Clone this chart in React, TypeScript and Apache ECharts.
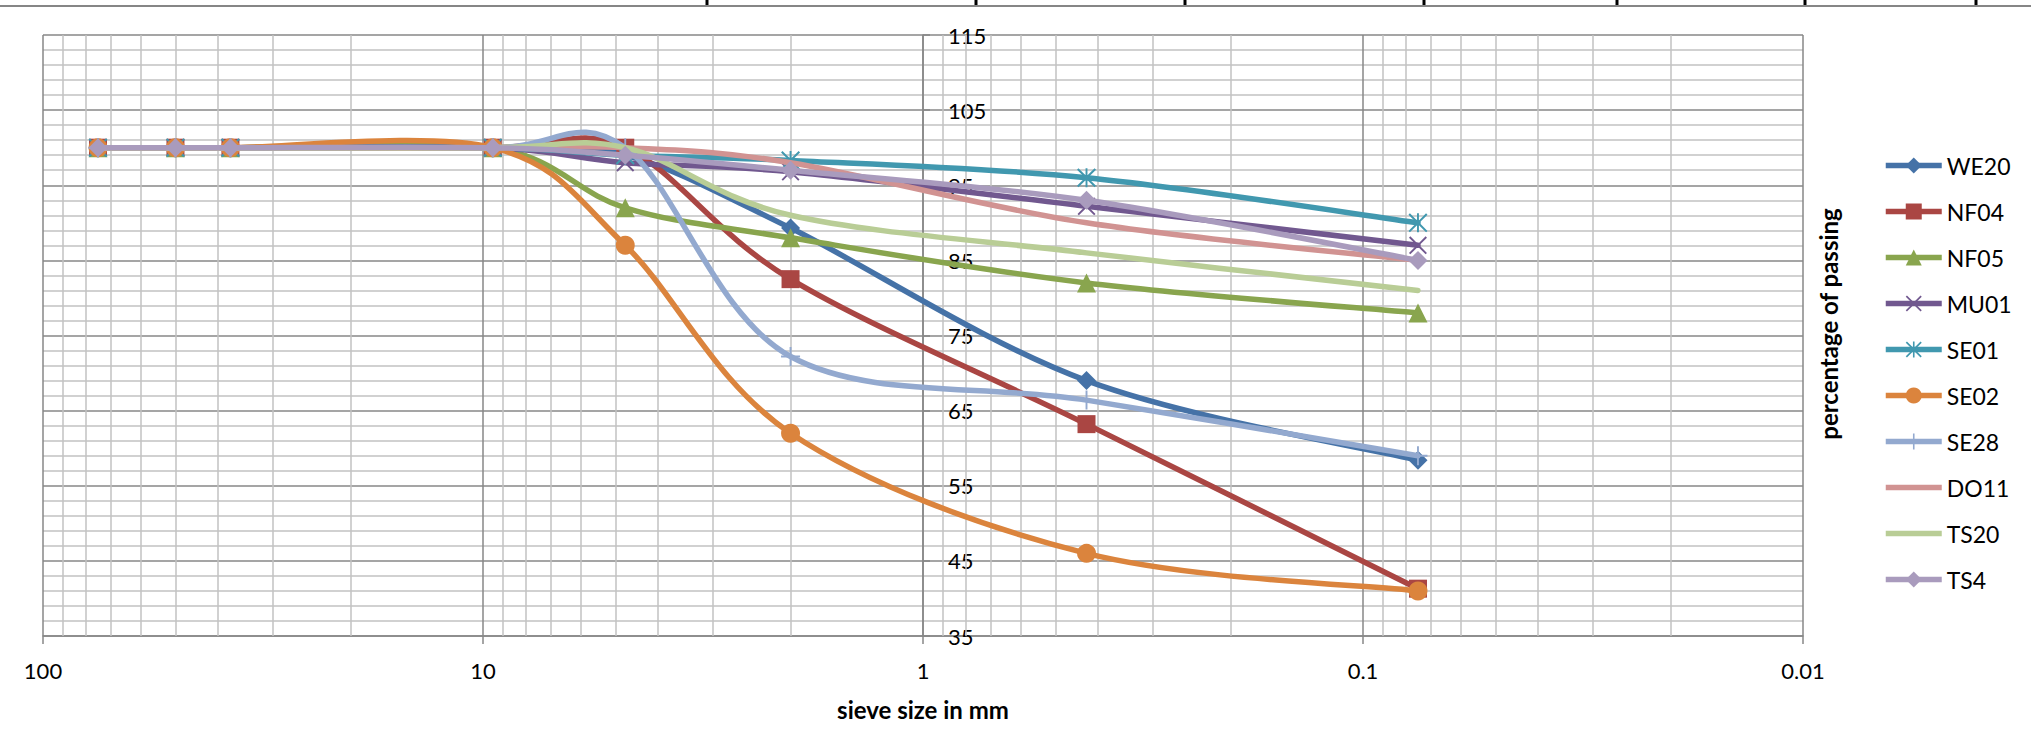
import React, { useEffect, useRef } from "react";
import * as echarts from "echarts";

// ---- data ----
const sieveSizes = [75, 50, 37.5, 9.5, 4.75, 2, 0.425, 0.075];
const seriesNames = ["WE20", "NF04", "NF05", "MU01", "SE01", "SE02", "SE28", "DO11", "TS20", "TS4"];
const WE20 = [100, 100, 100, 100, 99, 89.3, 69, 58.4];
const NF04 = [100, 100, 100, 100, 100, 82.5, 63.2, 41.3];
const NF05 = [100, 100, 100, 100, 92, 88, 82, 78];
const MU01 = [100, 100, 100, 100, 98, 96.8, 92.2, 87];
const SE01 = [100, 100, 100, 100, 99, 98.3, 96, 90];
const SE02 = [100, 100, 100, 100, 87, 62, 46, 41];
const SE28 = [100, 100, 100, 100, 100, 72.2, 66.4, 59];
const DO11 = [100, 100, 100, 100, 100, 98, 90, 85];
const TS20 = [100, 100, 100, 100, 100, 91, 86, 81];
const TS4 = [100, 100, 100, 100, 99, 97, 93, 85];
const seriesValues = [WE20, NF04, NF05, MU01, SE01, SE02, SE28, DO11, TS20, TS4];

const xTickValues = [100, 10, 1, 0.1, 0.01];
const xTickLabels = ["100", "10", "1", "0.1", "0.01"];
const minorXValues = [
  90, 80, 70, 60, 50, 40, 30, 20,
  9, 8, 7, 6, 5, 4, 3, 2,
  0.9, 0.8, 0.7, 0.6, 0.5, 0.4, 0.3, 0.2,
  0.09, 0.08, 0.07, 0.06, 0.05, 0.04, 0.03, 0.02,
];

// ---- styles ----
const FONT = "Lato, 'Liberation Sans', sans-serif";
const colors = ["#4572A7", "#AA4643", "#89A54E", "#71588F", "#4198AF", "#DB843D", "#93A9CF", "#D19392", "#B9CD96", "#A99BBD"];
const X_PATH = "path://M0,1.5 L1.5,0 L10,8.5 L18.5,0 L20,1.5 L11.5,10 L20,18.5 L18.5,20 L10,11.5 L1.5,20 L0,18.5 L8.5,10 Z";
const STAR_PATH = X_PATH + " M9,0 L11,0 L11,20 L9,20 Z";
const PLUS_PATH = "path://M9,0 L11,0 L11,9 L20,9 L20,11 L11,11 L11,20 L9,20 L9,11 L0,11 L0,9 L9,9 Z";
const symbols = ["diamond", "rect", "triangle", X_PATH, STAR_PATH, "circle", PLUS_PATH, "none", "none", "diamond"];
const symbolSizes = [19, 18, 19, 18, 19, 19, 19, 0, 0, 19];
const MAJOR = "#878787";
const MINOR = "#c2c2c2";
const LINE_W = 5.5;

export default function App() {
  const ref = useRef<HTMLDivElement>(null);
  useEffect(() => {
    if (!ref.current) return;
    const chart = echarts.init(ref.current, null, { renderer: "svg" });

    // Excel-like (Catmull-Rom) smoothed curves, positioned through the axes via api.coord
    const curveSeries = seriesNames.map((name, i) => ({
      name: name + " curve",
      type: "custom",
      data: sieveSizes.map((x, j) => [x, seriesValues[i][j]]),
      encode: { x: 0, y: 1 },
      z: 10 + 2 * i,
      silent: true,
      renderItem: (params: any, api: any) => {
        if (params.dataIndex !== 0) return null;
        const pts = sieveSizes.map((x, j) => api.coord([x, seriesValues[i][j]]));
        let d = `M${pts[0][0]},${pts[0][1]}`;
        for (let k = 0; k < pts.length - 1; k++) {
          const p0 = pts[Math.max(k - 1, 0)];
          const p1 = pts[k];
          const p2 = pts[k + 1];
          const p3 = pts[Math.min(k + 2, pts.length - 1)];
          const c1x = p1[0] + (p2[0] - p0[0]) / 6;
          const c1y = p1[1] + (p2[1] - p0[1]) / 6;
          const c2x = p2[0] - (p3[0] - p1[0]) / 6;
          const c2y = p2[1] - (p3[1] - p1[1]) / 6;
          d += ` C${c1x},${c1y} ${c2x},${c2y} ${p2[0]},${p2[1]}`;
        }
        return {
          type: "path",
          shape: { pathData: d },
          style: { fill: "none", stroke: colors[i], lineWidth: LINE_W, lineCap: "round", lineJoin: "round" },
        };
      },
    }));

    // markers + legend entries
    const markerSeries = seriesNames.map((name, i) => ({
      name,
      type: "line",
      data: sieveSizes.map((x, j) => [x, seriesValues[i][j]]),
      symbol: symbols[i],
      symbolSize: symbolSizes[i],
      showSymbol: symbols[i] !== "none",
      lineStyle: { color: colors[i], width: LINE_W, opacity: 0 },
      itemStyle: { color: colors[i] },
      z: 11 + 2 * i,
    }));

    const helper = {
      name: "__minorGrid",
      type: "line",
      data: [],
      z: 1,
      silent: true,
      markLine: {
        silent: true,
        symbol: ["none", "none"],
        label: { show: false },
        lineStyle: { color: MINOR, width: 1.5, type: "solid" },
        emphasis: { disabled: true },
        data: minorXValues.map((v) => ({ xAxis: v })),
      },
    };

    const topTicks = [707, 976, 1185, 1424, 1617, 1805, 1976];
    chart.setOption({
      animation: false,
      backgroundColor: "#ffffff",
      textStyle: { fontFamily: FONT },
      grid: { left: 43, right: 228, top: 35, bottom: 119, containLabel: false, outerBoundsMode: "none" },
      xAxis: {
        type: "log",
        logBase: 10,
        min: 0.01,
        max: 100,
        inverse: true,
        splitNumber: 4,
        name: "sieve size in mm",
        nameLocation: "middle",
        nameGap: 61,
        nameTextStyle: { fontWeight: "bold", fontSize: 24, fontFamily: FONT, color: "#000" },
        axisLine: { onZero: false, lineStyle: { color: MAJOR, width: 1.5 } },
        axisTick: { show: true, length: 8, lineStyle: { color: MAJOR, width: 1.5 } },
        axisLabel: {
          margin: 23,
          fontSize: 22,
          fontFamily: FONT,
          color: "#000",
          formatter: (v: number) => {
            let best = 0;
            xTickValues.forEach((t, k) => {
              if (Math.abs(Math.log10(t) - Math.log10(v)) < Math.abs(Math.log10(xTickValues[best]) - Math.log10(v))) best = k;
            });
            return xTickLabels[best];
          },
        },
        splitLine: { show: true, lineStyle: { color: MAJOR, width: 1.5 } },
        minorTick: { show: false },
        minorSplitLine: { show: false },
      },
      yAxis: {
        type: "value",
        min: 35,
        max: 115,
        interval: 10,
        position: "right",
        offset: -880,
        axisLine: { show: true, onZero: false, lineStyle: { color: MAJOR, width: 1.5 } },
        axisTick: { show: true, length: 7, lineStyle: { color: MAJOR, width: 1.5 } },
        axisLabel: { margin: 25, fontSize: 22, fontFamily: FONT, color: "#000" },
        splitLine: { show: true, lineStyle: { color: MAJOR, width: 1.5 } },
        minorTick: { show: false, splitNumber: 5 },
        minorSplitLine: { show: true, lineStyle: { color: MINOR, width: 1.5 } },
      },
      legend: {
        orient: "vertical",
        left: 1878,
        top: 149,
        itemWidth: 56,
        itemHeight: 20,
        itemGap: 23,
        data: seriesNames.map((name, i) => ({
          name,
          lineStyle: { opacity: 1, width: LINE_W },
          itemStyle: symbols[i] === "none" ? { opacity: 0 } : {},
        })),
        textStyle: { fontSize: 23, fontFamily: FONT, color: "#000" },
      },
      graphic: [
        { type: "line", shape: { x1: 0, y1: 6, x2: 2031, y2: 6 }, style: { stroke: "#868686", lineWidth: 2 }, silent: true },
        ...topTicks.map((x) => ({
          type: "rect",
          shape: { x: x - 1.5, y: 0, width: 3, height: 5 },
          style: { fill: "#000" },
          silent: true,
        })),
        {
          type: "text",
          x: 1828,
          y: 324,
          rotation: Math.PI / 2,
          style: {
            text: "percentage of passing",
            fontSize: 24,
            fontWeight: "bold",
            fontFamily: FONT,
            fill: "#000",
            align: "center",
            verticalAlign: "middle",
          },
        },
      ],
      series: [helper, ...curveSeries, ...markerSeries],
    });
    return () => chart.dispose();
  }, []);
  return (
    <div
      ref={ref}
      style={{ position: "fixed", left: 0, top: 0, width: 2031, height: 755, background: "#fff" }}
    />
  );
}
